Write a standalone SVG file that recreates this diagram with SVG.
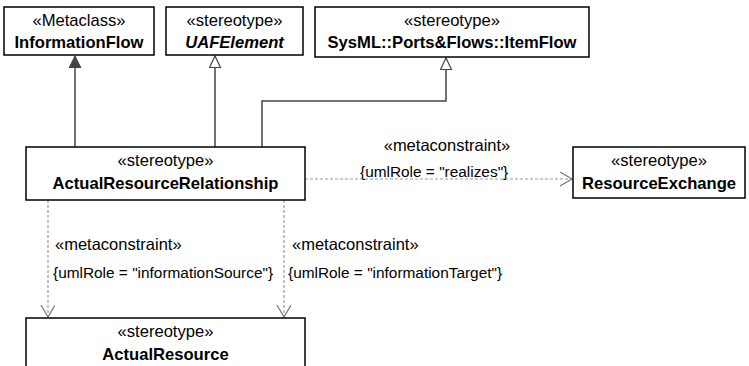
<svg xmlns="http://www.w3.org/2000/svg" width="749" height="366" viewBox="0 0 749 366">
<defs>
<style>
.box{fill:#fff;stroke:#000;stroke-width:1.5}
.t{font-family:"Liberation Sans",Arial,sans-serif;font-size:16.6px;fill:#000;text-anchor:middle}
.b{font-weight:bold}
.lbl{font-family:"Liberation Sans",Arial,sans-serif;font-size:15.4px;fill:#000}
.st{font-size:16.5px}
.gen{fill:none;stroke:#444;stroke-width:1.5}
.dep{fill:none;stroke:#999;stroke-width:1.2;stroke-dasharray:3,2}
</style>
<marker id="filled" markerWidth="14" markerHeight="14" refX="12" refY="6" orient="auto" markerUnits="userSpaceOnUse">
<path d="M0,0 L12,6 L0,12 Z" fill="#444" stroke="#444"/>
</marker>
<marker id="hollow" markerWidth="14" markerHeight="14" refX="12" refY="6" orient="auto" markerUnits="userSpaceOnUse">
<path d="M0.5,0.5 L12,6 L0.5,11.5 Z" fill="#fff" stroke="#444" stroke-width="1.2"/>
</marker>
<marker id="open" markerWidth="14" markerHeight="16" refX="12" refY="7" orient="auto" markerUnits="userSpaceOnUse">
<path d="M0,0 L12,7 L0,14" fill="none" stroke="#777" stroke-width="1.2"/>
</marker>
</defs>
<g id="connectors">
<path class="gen" d="M75,147 V56" marker-end="url(#filled)"/>
<path class="gen" d="M215,147 V56" marker-end="url(#hollow)"/>
<path class="gen" d="M262,147 V101 H446 V58" marker-end="url(#hollow)"/>
<path class="dep" d="M305,179 H572" marker-end="url(#open)"/>
<path class="dep" d="M48,200 V317" marker-end="url(#open)"/>
<path class="dep" d="M284,200 V317" marker-end="url(#open)"/>
<text class="lbl st" x="447" y="151" text-anchor="middle">«metaconstraint»</text>
<text class="lbl" x="360" y="177">{umlRole = "realizes"}</text>
<text class="lbl st" x="55" y="250">«metaconstraint»</text>
<text class="lbl" x="53" y="278">{umlRole = "informationSource"}</text>
<text class="lbl st" x="292" y="250">«metaconstraint»</text>
<text class="lbl" x="288" y="278">{umlRole = "informationTarget"}</text>
</g>
<g id="InformationFlow">
<rect class="box" x="4" y="7" width="150" height="48"/>
<text class="t" x="79" y="26">«Metaclass»</text>
<text class="t b" x="79" y="48">InformationFlow</text>
</g>
<g id="UAFElement">
<rect class="box" x="166" y="7" width="137" height="48"/>
<text class="t" x="234.5" y="26">«stereotype»</text>
<text class="t b" x="234.5" y="48" font-style="italic">UAFElement</text>
</g>
<g id="ItemFlow">
<rect class="box" x="315" y="7" width="274" height="50"/>
<text class="t" x="452" y="26">«stereotype»</text>
<text class="t b" x="452" y="48">SysML::Ports&amp;Flows::ItemFlow</text>
</g>
<g id="ActualResourceRelationship">
<rect class="box" x="26" y="147" width="279" height="53"/>
<text class="t" x="165.5" y="166">«stereotype»</text>
<text class="t b" x="165.5" y="189">ActualResourceRelationship</text>
</g>
<g id="ResourceExchange">
<rect class="box" x="573" y="147" width="172" height="51"/>
<text class="t" x="659" y="166">«stereotype»</text>
<text class="t b" x="659" y="189">ResourceExchange</text>
</g>
<g id="ActualResource">
<rect class="box" x="26" y="318" width="279" height="60"/>
<text class="t" x="165.5" y="337">«stereotype»</text>
<text class="t b" x="165.5" y="360">ActualResource</text>
</g>
</svg>
